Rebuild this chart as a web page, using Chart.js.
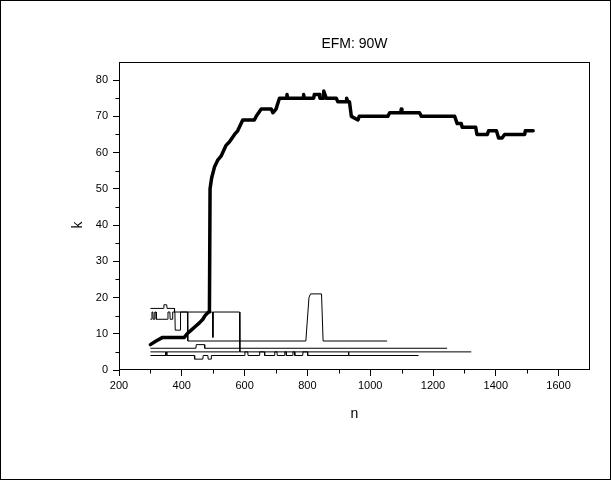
<!DOCTYPE html>
<html>
<head>
<meta charset="utf-8">
<script src="https://cdn.jsdelivr.net/npm/chart.js"></script>
<style>
  body { margin: 0; background: #fff; }
  canvas { display: block; }
</style>
</head>
<body>
<canvas id="myChart" width="611" height="480"></canvas>
<script>
// serie principal (linha grossa)
const mainN = [300,318,339,408,417,430,443,456,467,474,485,488,490,495,504,515,525,541,552,568,578,594,631,637,653,685,690,700,711,733,735,737,786,788,790,820,822,838,840,850,852,856,860,892,897,923,925,929,934,940,961,965,1056,1062,1097,1099,1101,1108,1157,1163,1269,1277,1290,1293,1336,1340,1373,1377,1402,1409,1420,1428,1492,1494,1519];
const mainK = [7,8,9,9,10,11,12,13,14,15,16,16,50,53,56,58,59,62,63,65,66,69,69,70,72,72,71,72,75,75,76,75,75,76,75,75,76,76,75,75,77,76,75,75,74,74,75,74,74,70,69,70,70,71,71,72,71,71,71,70,70,68,68,67,67,65,65,66,66,64,64,65,65,66,66];

// series finas
const s1N = [300,342,343,352,353,376,377,418,419,795,805,810,845,850,1054];
const s1K = [17,17,18,18,17,17,16,16,8,8,20,21,21,8,8];

const s2N = [300,304,305,308,309,313,314,318,319,355,356,362,363,370,371,378,379,395,396,498,499,500,584,585,1322];
const s2K = [14,14,16,16,14,14,16,16,14,14,16,16,14,14,16,16,11,11,16,16,9,16,16,5,5];

const s3N = [300,445,446,472,473,1245];
const s3K = [6,6,7,7,6,6];

const s4N = [300,348,349,352,353,440,441,467,468,483,484,493,494,600,601,610,611,647,648,663,664,695,696,703,704,727,728,732,733,753,754,759,760,785,786,800,801,930,931,932,1154];
const s4K = [4,4,5,5,4,4,3,3,4,4,3,3,4,4,5,5,4,4,5,5,4,4,5,5,4,4,5,5,4,4,5,5,4,4,5,5,4,4,5,4,4];

const s5N = [300,348,349,352,353,584];
const s5K = [5,5,4,4,5,5];

const xTicks = [200,400,600,800,1000,1200,1400,1600];
const xMinor = [300,500,700,900,1100,1300,1500];
const yTicks = [0,10,20,30,40,50,60,70,80];
const yMinor = [5,15,25,35,45,55,65,75];

function pts(n, k) {
  return n.map((v, i) => ({x: v, y: k[i]}));
}

function thin(n, k) {
  return {data: pts(n, k), borderColor: '#000', borderWidth: 1, pointRadius: 0, tension: 0, order: 2};
}

// moldura, ticks menores e textos
const moldura = {
  id: 'moldura',
  afterDraw(chart) {
    const c = chart.ctx;
    const a = chart.chartArea;
    const sx = chart.scales.x;
    const sy = chart.scales.y;
    c.save();
    c.strokeStyle = '#000';
    c.lineWidth = 1;
    c.strokeRect(0.5, 0.5, 610, 479);
    c.strokeRect(Math.round(a.left) + 0.5, Math.round(a.top) + 0.5, Math.round(a.right - a.left) - 1, Math.round(a.bottom - a.top) - 1);
    c.beginPath();
    xMinor.forEach(v => {
      const px = Math.round(sx.getPixelForValue(v)) + 0.5;
      c.moveTo(px, a.bottom);
      c.lineTo(px, a.bottom + 3.5);
    });
    yMinor.forEach(v => {
      const py = Math.round(sy.getPixelForValue(v)) + 0.5;
      c.moveTo(a.left, py);
      c.lineTo(a.left - 3.5, py);
    });
    c.stroke();

    c.fillStyle = '#000';
    c.font = '14px "Liberation Sans", Arial, sans-serif';
    c.textAlign = 'center';
    c.textBaseline = 'middle';
    const cx = (a.left + a.right) / 2;
    c.fillText('EFM: 90W', cx, 44);
    c.fillText('n', cx, 414);
    c.translate(78, sy.getPixelForValue(40));
    c.rotate(-Math.PI / 2);
    c.fillText('k', 0, 0);
    c.restore();
  }
};

Chart.defaults.font.family = '"Liberation Sans", Arial, sans-serif';
Chart.defaults.font.size = 11;
Chart.defaults.color = '#000';

const ctx = document.getElementById('myChart');

new Chart(ctx, {
  type: 'line',
  data: {
    datasets: [
      {data: pts(mainN, mainK), borderColor: '#000', borderWidth: 3.5, pointRadius: 0, tension: 0, order: 1, borderJoinStyle: 'round', borderCapStyle: 'round'},
      thin(s1N, s1K),
      thin(s2N, s2K),
      thin(s3N, s3K),
      thin(s4N, s4K),
      thin(s5N, s5K)
    ]
  },
  options: {
    responsive: false,
    animation: false,
    events: [],
    layout: {padding: {left: 0, top: 62, right: 21, bottom: 0}},
    plugins: {legend: {display: false}, tooltip: {enabled: false}},
    scales: {
      x: {
        type: 'linear',
        min: 200,
        max: 1700,
        afterBuildTicks: s => { s.ticks = xTicks.map(v => ({value: v})); },
        afterFit: s => { s.height = 110; },
        ticks: {padding: 3, maxRotation: 0, autoSkip: false, callback: v => String(v)},
        grid: {drawOnChartArea: false, tickLength: 6, color: '#000'},
        border: {display: false}
      },
      y: {
        min: 0,
        max: 85,
        afterBuildTicks: s => { s.ticks = yTicks.map(v => ({value: v})); },
        afterFit: s => { s.width = 119; },
        ticks: {padding: 5, autoSkip: false, callback: v => String(v)},
        grid: {drawOnChartArea: false, tickLength: 6, color: '#000'},
        border: {display: false}
      }
    }
  },
  plugins: [moldura]
});
</script>
</body>
</html>
